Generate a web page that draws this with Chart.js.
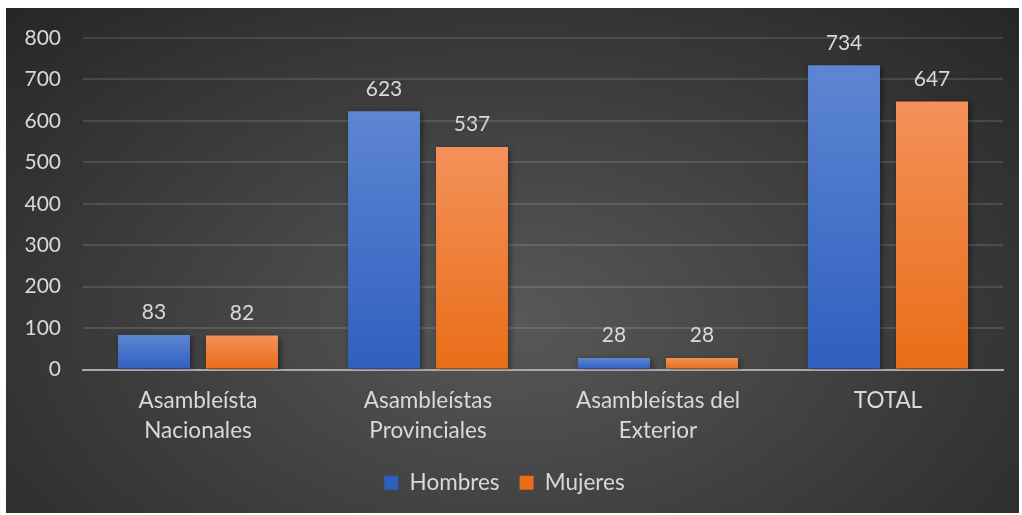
<!DOCTYPE html>
<html>
<head>
<meta charset="utf-8">
<script src="https://cdn.jsdelivr.net/npm/chart.js@4"></script>
<style>
  html, body { margin: 0; padding: 0; background: #fff; }
  #frame {
    position: absolute; left: 6px; top: 8px; width: 1013px; height: 505px;
    background: radial-gradient(ellipse farthest-corner at 50% 62%, #585858 0%, #3c3c3c 55%, #262626 100%);
  }
</style>
</head>
<body>
<div id="frame"><canvas id="chart" width="1013" height="505"></canvas></div>
<script>
// Asambleístas electos por género
const categories = [
    ['Asambleísta', 'Nacionales'],
    ['Asambleístas', 'Provinciales'],
    ['Asambleístas del', 'Exterior'],
    'TOTAL'
];
const hombres = [83, 623, 28, 734];
const mujeres = [82, 537, 28, 647];
const yTicks = [0, 100, 200, 300, 400, 500, 600, 700, 800];

const FONT = 'Lato';
const TEXT = '#d9d9d9';

// vertical gradient per bar, lighter on top
function barGradient(top, bottom) {
    return (ctx) => {
        const chart = ctx.chart;
        const y = chart.scales.y;
        if (!chart.chartArea || !y || ctx.raw === undefined) return bottom;
        const y0 = y.getPixelForValue(0);
        const y1 = y.getPixelForValue(ctx.raw);
        if (!isFinite(y0) || !isFinite(y1) || y0 === y1) return bottom;
        const g = chart.ctx.createLinearGradient(0, y1, 0, y0);
        g.addColorStop(0, top);
        g.addColorStop(1, bottom);
        return g;
    };
}

const barDecor = {
    id: 'barDecor',
    beforeDatasetsDraw(chart) {
        const c = chart.ctx;
        c.save();
        c.shadowColor = 'rgba(0,0,0,0.45)';
        c.shadowBlur = 6;
        c.shadowOffsetX = 2;
        c.shadowOffsetY = 2;
    },
    afterDatasetsDraw(chart) {
        const c = chart.ctx;
        c.restore();
        c.save();
        c.fillStyle = TEXT;
        c.font = `21px ${FONT}`;
        c.textAlign = 'center';
        c.textBaseline = 'bottom';
        chart.data.datasets.forEach((ds, i) => {
            chart.getDatasetMeta(i).data.forEach((bar, j) => {
                c.fillText(String(ds.data[j]), bar.x, bar.y - 12);
            });
        });
        c.restore();
    }
};

new Chart(document.getElementById('chart'), {
    type: 'bar',
    data: {
        labels: categories,
        datasets: [
            {
                label: 'Hombres',
                data: hombres,
                backgroundColor: barGradient('#5d86d2', '#2f5fbf'),
                categoryPercentage: 0.765,
                barPercentage: 0.818
            },
            {
                label: 'Mujeres',
                data: mujeres,
                backgroundColor: barGradient('#f4915a', '#e96d17'),
                categoryPercentage: 0.765,
                barPercentage: 0.818
            }
        ]
    },
    options: {
        responsive: false,
        animation: false,
        layout: { padding: { top: 30, right: 16, bottom: 9, left: 0 } },
        plugins: {
            tooltip: { enabled: false },
            legend: {
                position: 'bottom',
                labels: {
                    color: TEXT,
                    font: { family: FONT, size: 22.5 },
                    boxWidth: 14,
                    boxHeight: 14,
                    padding: 20,
                    useBorderRadius: false
                }
            }
        },
        scales: {
            x: {
                z: 1,
                grid: { display: false },
                border: { display: true, color: '#a9a9a9', width: 2 },
                ticks: {
                    color: TEXT,
                    font: { family: FONT, size: 22.5, lineHeight: 1.33 },
                    padding: 8,
                    maxRotation: 0
                },
                afterFit(scale) { scale.height = 82; }
            },
            y: {
                min: 0,
                max: 800,
                afterBuildTicks(scale) { scale.ticks = yTicks.map(v => ({ value: v })); },
                grid: { color: 'rgba(255,255,255,0.12)', lineWidth: 2, drawTicks: false },
                border: { display: false },
                ticks: {
                    color: TEXT,
                    font: { family: FONT, size: 21 },
                    padding: 22
                },
                afterFit(scale) {
                    scale.width = 77;
                    // tick padding should not push the plot area down
                    scale.paddingTop = 0;
                    scale.paddingBottom = 0;
                }
            }
        }
    },
    plugins: [barDecor]
});
</script>
</body>
</html>
